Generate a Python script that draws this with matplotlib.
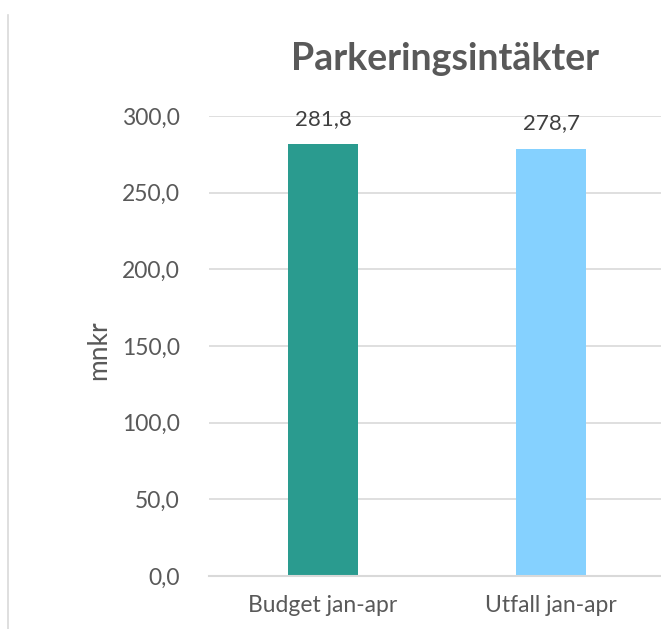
import matplotlib
matplotlib.use("Agg")
import matplotlib.pyplot as plt
from matplotlib.lines import Line2D

categories = ["Budget jan-apr", "Utfall jan-apr"]
values = [281.8, 278.7]
value_labels = ["281,8", "278,7"]
colors = ["#2A9B8F", "#85D1FF"]
yticks = [0, 50, 100, 150, 200, 250, 300]
ytick_labels = ["0,0", "50,0", "100,0", "150,0", "200,0", "250,0", "300,0"]
title = "Parkeringsintäkter"
ylabel = "mnkr"

W, H = 661, 629
dpi = 100
plt.rcParams["font.family"] = ["Lato", "DejaVu Sans"]
text_color = "#595959"

fig = plt.figure(figsize=(W / dpi, H / dpi), dpi=dpi)

# plot area in pixel coordinates
left, right = 209, 665
top, bottom = 116, 576
ax = fig.add_axes([left / W, 1 - bottom / H, (right - left) / W, (bottom - top) / H])

ax.bar(range(len(categories)), values, width=0.31, color=colors, zorder=3)
for i, (v, lab) in enumerate(zip(values, value_labels)):
    ax.annotate(lab, (i, v), xytext=(0, 11), textcoords="offset points",
                ha="center", va="bottom", fontsize=16, color="#404040")

ax.set_xlim(-0.5, 1.5)
ax.set_ylim(0, 300)
ax.set_yticks(yticks)
ax.set_yticklabels(ytick_labels)
ax.set_xticks(range(len(categories)))
ax.set_xticklabels(categories)
ax.tick_params(axis="y", length=0, pad=21, labelsize=16.5, labelcolor=text_color)
ax.tick_params(axis="x", length=0, pad=14, labelsize=16.5, labelcolor=text_color)
ax.grid(axis="y", color="#D9D9D9", linewidth=1.2, zorder=0)
for s in ["top", "right", "left"]:
    ax.spines[s].set_visible(False)
ax.spines["bottom"].set_color("#D9D9D9")
ax.spines["bottom"].set_linewidth(1.5)
ax.spines["bottom"].set_zorder(4)

fig.text(99 / W, 1 - 350 / H, ylabel, rotation=90, ha="center", va="center",
         fontsize=19, color=text_color)
fig.text(445 / W, 1 - 70 / H, title, ha="center", va="baseline",
         fontsize=27, fontweight="bold", color=text_color)

# outer chart frame edge on the left
fig.add_artist(Line2D([8 / W, 8 / W], [0, 1 - 15 / H], transform=fig.transFigure,
                      color="#D9D9D9", linewidth=1.2))

fig.savefig("out.png", dpi=dpi)
